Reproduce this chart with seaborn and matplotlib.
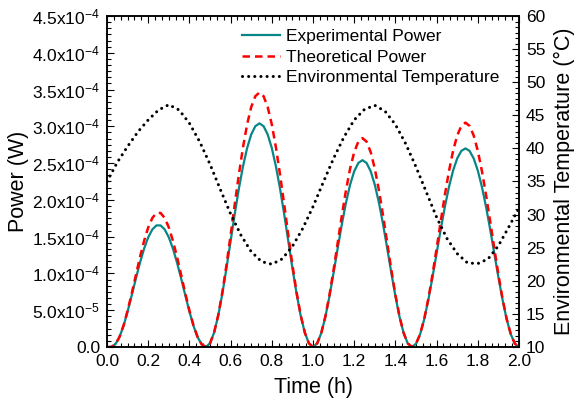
import numpy as np
import pandas as pd
import matplotlib
matplotlib.use('Agg')
import matplotlib.pyplot as plt
import seaborn as sns
from matplotlib.ticker import MultipleLocator, AutoMinorLocator, FuncFormatter

# time grid (h) for the power curves, 0.02 h steps
time_power = np.linspace(0, 2, 101)

# power values, in units of 1e-4 W
power_theo = [
    0, 0, .034, .133, .290, .495, .730, .977, 1.222, 1.443, 1.625, 1.754, 1.822,
    1.822, 1.754, 1.625, 1.443, 1.222, .977, .730, .495, .290, .133, .034, 0,
    .050, .198, .435, .747, 1.117, 1.521, 1.939, 2.343, 2.713, 3.025, 3.262, 3.410, 3.460,
    3.410, 3.262, 3.025, 2.713, 2.343, 1.939, 1.521, 1.117, .747, .435, .198, .050, 0,
    .048, .190, .416, .710, 1.053, 1.420, 1.788, 2.130, 2.424, 2.650, 2.792, 2.840,
    2.792, 2.650, 2.424, 2.130, 1.788, 1.420, 1.053, .710, .416, .190, .048, 0,
    .044, .175, .383, .659, .984, 1.341, 1.709, 2.066, 2.391, 2.667, 2.875, 3.006, 3.050,
    3.006, 2.875, 2.667, 2.391, 2.066, 1.709, 1.341, .984, .659, .383, .175, .044, 0,
]
power_exp = [
    0, 0, .034, .132, .286, .482, .703, .929, 1.146, 1.337, 1.491, 1.598, 1.653,
    1.653, 1.598, 1.491, 1.337, 1.146, .929, .703, .482, .286, .132, .034, 0,
    .050, .197, .428, .728, 1.073, 1.440, 1.807, 2.151, 2.454, 2.704, 2.889, 3.002, 3.040,
    3.002, 2.889, 2.704, 2.454, 2.151, 1.807, 1.440, 1.073, .728, .428, .197, .050, 0,
    .048, .189, .409, .691, 1.011, 1.345, 1.669, 1.961, 2.206, 2.389, 2.502, 2.540,
    2.502, 2.389, 2.206, 1.961, 1.669, 1.345, 1.011, .691, .409, .189, .048, 0,
    .044, .174, .378, .643, .948, 1.273, 1.599, 1.905, 2.176, 2.399, 2.564, 2.666, 2.700,
    2.666, 2.564, 2.399, 2.176, 1.905, 1.599, 1.273, .948, .643, .378, .174, .044, 0,
]

# environmental temperature (°C), 0.05 h steps
time_temp = np.linspace(0, 2, 41)
temperature = [
    35.0, 37.9, 40.3, 42.5, 44.3, 45.8, 46.6, 45.8, 43.8, 41.0,
    37.6, 33.8, 30.1, 26.9, 24.4, 22.9, 22.5, 23.3, 25.2, 27.9,
    31.2, 34.9, 38.5, 41.7, 44.3, 45.9, 46.5, 45.6, 43.6, 40.7,
    37.2, 33.4, 29.6, 26.4, 24.1, 22.7, 22.6, 23.3, 25.3, 28.1,
    31.0,
]

df_p = pd.DataFrame({'t': time_power,
                     'exp': np.array(power_exp) * 1e-4,
                     'theo': np.array(power_theo) * 1e-4})
df_t = pd.DataFrame({'t': time_temp, 'temp': temperature})

plt.rcParams['font.family'] = ['Liberation Sans', 'DejaVu Sans']
plt.rcParams['mathtext.fontset'] = 'custom'
plt.rcParams['mathtext.rm'] = 'Liberation Sans'
plt.rcParams['mathtext.it'] = 'Liberation Sans:italic'
plt.rcParams['mathtext.default'] = 'regular'

fig, ax = plt.subplots(figsize=(5.81, 4.09), dpi=100)
fig.subplots_adjust(left=0.1842, right=0.8933, bottom=0.1516, top=0.9609)
ax2 = ax.twinx()

sns.lineplot(data=df_p, x='t', y='exp', ax=ax, color='#088686', lw=1.6,
             label='Experimental Power')
sns.lineplot(data=df_p, x='t', y='theo', ax=ax, color='#ff0000', lw=1.8,
             linestyle=(0, (3, 2)), label='Theoretical Power')
sns.lineplot(data=df_t, x='t', y='temp', ax=ax2, color='black', lw=2.2,
             linestyle=(0, (0.01, 2.0)), dash_capstyle='round',
             label='Environmental Temperature')

def sci_fmt(v, pos):
    if abs(v) < 1e-12:
        return '0.0'
    e = int(np.floor(np.log10(abs(v)) + 1e-9))
    m = v / 10 ** e
    return f'{m:.1f}x10$^{{{e}}}$'

ax.set_xlim(0, 2)
ax.set_ylim(0, 4.5e-4)
ax2.set_ylim(10, 60)
ax.xaxis.set_major_locator(MultipleLocator(0.2))
ax.xaxis.set_minor_locator(AutoMinorLocator(6))
ax.yaxis.set_major_locator(MultipleLocator(0.5e-4))
ax.yaxis.set_minor_locator(AutoMinorLocator(6))
ax.yaxis.set_major_formatter(FuncFormatter(sci_fmt))
ax.xaxis.set_major_formatter(FuncFormatter(lambda v, p: f'{v:.1f}'))
ax2.yaxis.set_major_locator(MultipleLocator(5))
ax2.yaxis.set_minor_locator(AutoMinorLocator(6))

ax.tick_params(which='both', direction='in', top=True, right=False,
               labelsize=12.5, pad=5, width=0.8, color='black', labelcolor='black')
ax.tick_params(which='major', length=5)
ax.tick_params(which='minor', length=2.6)
ax2.tick_params(which='both', direction='in', labelsize=12.5, pad=5, width=0.8,
                color='black', labelcolor='black')
ax2.tick_params(which='major', length=5)
ax2.tick_params(which='minor', length=2.6)
for a in (ax, ax2):
    for s in a.spines.values():
        s.set_linewidth(1.1)
        s.set_color('black')

ax.set_xlabel('Time (h)', fontsize=15.5, labelpad=6)
ax.set_ylabel('Power (W)', fontsize=15.5, labelpad=2)
ax2.set_ylabel('Environmental Temperature (°C)', fontsize=15.5, labelpad=6)

h1, l1 = ax.get_legend_handles_labels()
h2, l2 = ax2.get_legend_handles_labels()
if ax.get_legend() is not None:
    ax.get_legend().remove()
ax2.legend(h1 + h2, l1 + l2, loc='upper left', bbox_to_anchor=(0.328, 0.96),
           frameon=False, fontsize=12.5, handlelength=2.2, handletextpad=0.3,
           labelspacing=0.3, borderpad=0, borderaxespad=0)

plt.savefig('out.png', dpi=100)
